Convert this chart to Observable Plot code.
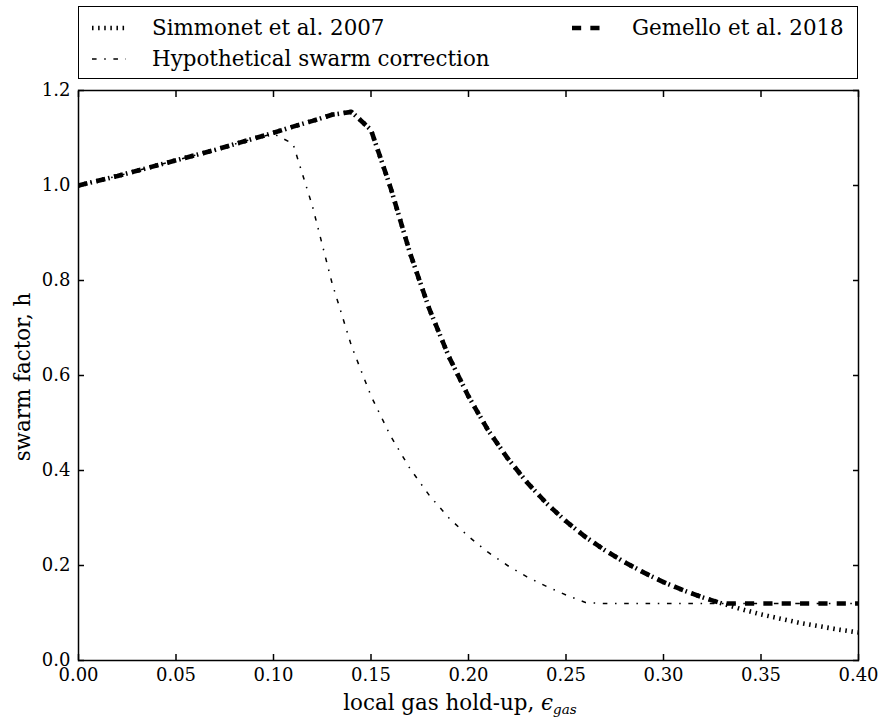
<!DOCTYPE html>
<html><head><meta charset="utf-8">
<script src="https://cdn.jsdelivr.net/npm/d3@7"></script>
<script src="https://cdn.jsdelivr.net/npm/@observablehq/plot@0.6"></script>
<style>
body{margin:0;background:#fff;font-family:"DejaVu Serif",serif;}
#wrap{position:relative;width:883px;height:723px;overflow:hidden;}
#legend{position:absolute;left:78px;top:6px;width:780px;height:73px;box-sizing:border-box;border:1.5px solid #000;}
.item{position:absolute;display:flex;align-items:center;font-size:21.4px;white-space:nowrap;height:30px;line-height:30px;font-family:"DejaVu Serif",serif;}
.item svg{margin-right:26px;}
#chart{position:absolute;left:0;top:80px;}
</style></head><body>
<div id="wrap"><div id="legend"></div><div id="chart"></div></div>
<script>
// local gas hold-up (x)
const eps = [0.00,0.01,0.02,0.03,0.04,0.05,0.06,0.07,0.08,0.09,0.10,0.11,0.12,0.13,0.14,0.15,0.16,0.17,0.18,0.19,0.20,
             0.21,0.22,0.23,0.24,0.25,0.26,0.27,0.28,0.29,0.30,0.31,0.32,0.33,0.34,0.35,0.36,0.37,0.38,0.39,0.40];
// swarm factor, Simmonet et al. 2007
const simmonet = [1.000,1.010,1.020,1.031,1.042,1.053,1.064,1.075,1.087,1.099,1.111,1.124,1.136,1.149,1.155,1.117,0.996,0.858,0.739,0.639,0.556,
                  0.485,0.426,0.375,0.331,0.293,0.260,0.232,0.207,0.185,0.165,0.148,0.133,0.120,0.108,0.097,0.088,0.079,0.072,0.065,0.059];
// swarm factor, Gemello et al. 2018
const gemello = [1.000,1.010,1.020,1.031,1.042,1.053,1.064,1.075,1.087,1.099,1.111,1.124,1.136,1.149,1.155,1.117,0.996,0.858,0.739,0.639,0.556,
                 0.485,0.426,0.375,0.331,0.293,0.260,0.232,0.207,0.185,0.165,0.148,0.133,0.120,0.120,0.120,0.120,0.120,0.120,0.120,0.120];
// swarm factor, hypothetical swarm correction
const hypothetical = [1.000,1.010,1.020,1.031,1.042,1.053,1.064,1.075,1.087,1.099,1.109,1.088,0.956,0.795,0.662,0.557,0.473,0.404,0.347,0.300,0.261,
                      0.228,0.200,0.176,0.156,0.138,0.122,0.120,0.120,0.120,0.120,0.120,0.120,0.120,0.120,0.120,0.120,0.120,0.120,0.120,0.120];
const xTicks = [0.00,0.05,0.10,0.15,0.20,0.25,0.30,0.35,0.40];
const yTicks = [0.0,0.2,0.4,0.6,0.8,1.0,1.2];
const seriesNames = ["Simmonet et al. 2007","Gemello et al. 2018","Hypothetical swarm correction"];

const styles = [
  {strokeWidth:4.6, strokeDasharray:"1.53,4.58"},
  {strokeWidth:4.6, strokeDasharray:"9.17,9.17"},
  {strokeWidth:1.53, strokeDasharray:"4.58,7.64,1.53,7.64"}
];
const seriesValues = [simmonet, gemello, hypothetical];
const rows = seriesValues.map(vals => eps.map((x,i)=>({x, h: vals[i]})));

const lines = rows.map((data,k)=>Plot.line(data,{x:"x",y:"h",stroke:"#000",fill:"none",
  strokeLinecap:"butt",strokeLinejoin:"round",...styles[k]}));

const fmt2 = d3.format(".2f"), fmt1 = d3.format(".1f");
const plot = Plot.plot({
  width:883, height:643, marginTop:10, marginBottom:63, marginLeft:78, marginRight:25,
  style:{fontFamily:'"DejaVu Serif", serif', fontSize:"18px", color:"#000", background:"transparent", overflow:"visible"},
  x:{domain:[0,0.4]},
  y:{domain:[0,1.2]},
  marks:[
    ...lines,
    Plot.axisX({anchor:"bottom", ticks:xTicks, tickSize:-6, tickPadding:14, tickFormat:fmt2, label:null, strokeWidth:1.5}),
    Plot.axisX({anchor:"top", ticks:xTicks, tickSize:-6, tickFormat:()=>"", label:null, strokeWidth:1.5}),
    Plot.axisY({anchor:"left", ticks:yTicks, tickSize:-6, tickPadding:14, tickFormat:fmt1, label:null, strokeWidth:1.5}),
    Plot.axisY({anchor:"right", ticks:yTicks, tickSize:-6, tickFormat:()=>"", label:null, strokeWidth:1.5}),
    Plot.frame({stroke:"#000", strokeWidth:1.5})
  ]
});
document.getElementById("chart").appendChild(plot);

// axis labels
const svg = d3.select(plot);
const xl = svg.append("text").attr("x",460).attr("y",630).attr("text-anchor","middle")
  .attr("font-family",'"DejaVu Serif", serif').attr("font-size","21.4px").attr("fill","#000");
xl.append("tspan").text("local gas hold-up, ");
xl.append("tspan").attr("font-style","italic").text("ϵ");
xl.append("tspan").attr("font-style","italic").attr("font-size","13.5px").attr("dy","4").text("gas");
svg.append("text").attr("transform","translate(22,297) rotate(-90)").attr("text-anchor","middle")
  .attr("font-family",'"DejaVu Serif", serif')
  .attr("dy","0.35em").attr("font-size","21.4px").attr("fill","#000").text("swarm factor, h");

// legend
const legend = document.getElementById("legend");
const pos = [{left:13, top:6},{left:493, top:6},{left:13, top:37}];
seriesNames.forEach((name,k)=>{
  const item = document.createElement("div");
  item.className = "item";
  item.style.left = pos[k].left+"px"; item.style.top = pos[k].top+"px";
  const sw = d3.create("svg").attr("width",34).attr("height",12);
  sw.append("line").attr("x1",0).attr("x2",34).attr("y1",6).attr("y2",6)
    .attr("stroke","#000").attr("stroke-width",styles[k].strokeWidth)
    .attr("stroke-dasharray",styles[k].strokeDasharray).attr("stroke-linecap","butt");
  item.appendChild(sw.node());
  const t = document.createElement("span"); t.textContent = name;
  item.appendChild(t);
  legend.appendChild(item);
});
</script>
</body></html>
